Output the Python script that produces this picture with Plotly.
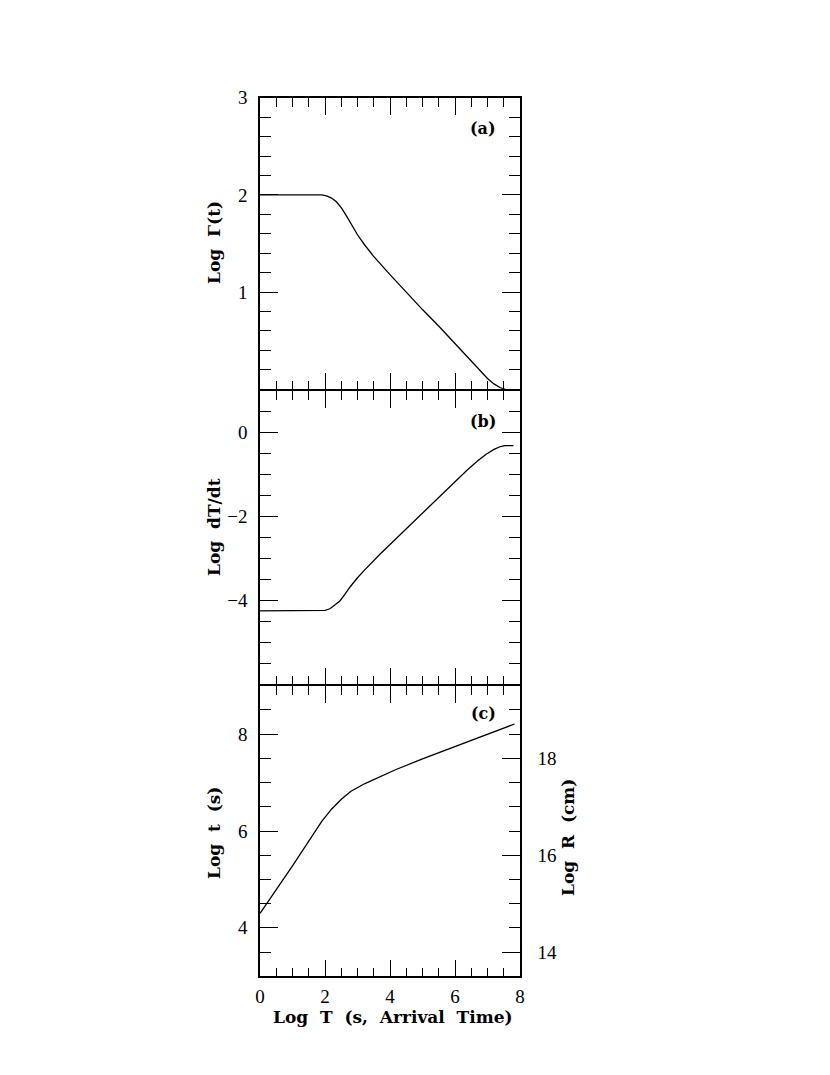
import plotly.graph_objects as go

# ---- data ----
# Panel (a): Log Gamma(t) vs Log T
logT_a = [0.0, 1.90, 2.05, 2.20, 2.35, 2.50, 2.65, 2.80, 3.00, 3.20, 3.49, 4.00, 4.51, 5.00, 5.54, 6.00, 6.36, 6.60, 6.80, 7.00, 7.20, 7.38, 7.54]
logGamma = [2.0, 2.0, 1.99, 1.968, 1.93, 1.87, 1.79, 1.70, 1.59, 1.495, 1.37, 1.18, 0.995, 0.82, 0.635, 0.47, 0.337, 0.25, 0.178, 0.11, 0.055, 0.018, 0.0]

# Panel (b): Log dT/dt vs Log T
logT_b = [0.0, 1.85, 2.00, 2.15, 2.30, 2.45, 2.60, 2.77, 3.00, 3.20, 3.69, 4.20, 4.72, 5.20, 5.54, 6.00, 6.36, 6.70, 6.97, 7.20, 7.40, 7.54, 7.80]
logdTdt = [-4.25, -4.25, -4.24, -4.2, -4.12, -4.02, -3.87, -3.68, -3.46, -3.29, -2.90, -2.52, -2.13, -1.76, -1.50, -1.16, -0.90, -0.67, -0.51, -0.40, -0.33, -0.31, -0.31]

# Panel (c): Log t vs Log T
logT_c = [0.0, 1.00, 1.90, 2.20, 2.51, 2.80, 3.23, 4.15, 5.00, 6.00, 7.00, 7.83]
logt = [4.30, 5.28, 6.20, 6.45, 6.66, 6.82, 6.98, 7.26, 7.49, 7.74, 8.00, 8.21]

# tick labels
x_ticks = [0, 2, 4, 6, 8]
ya_ticks = [1, 2, 3]
yb_ticks = [0, -2, -4]
yc_ticks = [4, 6, 8]
yr_ticks = [14, 16, 18]
logR_offset = 10.5

panel_labels = ["(a)", "(b)", "(c)"]

TICKFONT = "Liberation Serif"
TITLEFONT = "DejaVu Serif"
W, H = 830, 1075
OFF = 8  # default page body margin
X0, X1 = 260, 520
LW = 1.5


def fx(px):
    return (px - OFF) / W


def fy(py):
    return 1 - (py - OFF) / H


fig = go.Figure()
line = dict(color="black", width=1.3)
fig.add_trace(go.Scatter(x=logT_a, y=logGamma, mode="lines", line=line, xaxis="x", yaxis="y", showlegend=False))
fig.add_trace(go.Scatter(x=logT_b, y=logdTdt, mode="lines", line=line, xaxis="x2", yaxis="y2", showlegend=False))
fig.add_trace(go.Scatter(x=logT_c, y=logt, mode="lines", line=line, xaxis="x3", yaxis="y3", showlegend=False))
fig.add_trace(go.Scatter(x=[], y=[], mode="lines", xaxis="x3", yaxis="y4", showlegend=False))

tickfont = dict(family=TICKFONT, size=19, color="black")


def xax(anchor, labels):
    return dict(
        domain=[fx(X0), fx(X1)], range=[0, 8], anchor=anchor, automargin=False,
        showline=True, linecolor="black", linewidth=LW, mirror="ticks",
        ticks="inside", ticklen=17, tickwidth=1.2, tickcolor="black",
        tickmode="array", tickvals=x_ticks, ticktext=[str(v) for v in x_ticks],
        showticklabels=labels, tickfont=tickfont, ticklabelstandoff=2,
        minor=dict(dtick=0.5, tick0=0, ticks="inside", ticklen=9, tickwidth=1.2, tickcolor="black", showgrid=False),
        showgrid=False, zeroline=False, fixedrange=True,
    )


def yax(anchor, top, bot, rng, vals, mdt, mirror="ticks", side="left", standoff=7):
    # top/bot: pixel rows of the frame lines; axis lines are drawn just outside the domain
    return dict(
        domain=[fy(bot - LW / 2), fy(top + LW / 2)], range=rng, anchor=anchor, side=side, automargin=False,
        showline=True, linecolor="black", linewidth=LW, mirror=mirror,
        ticks="inside", ticklen=18, tickwidth=1.2, tickcolor="black",
        tickmode="array", tickvals=vals, ticktext=[str(v).replace("-", "\u2212") for v in vals],
        tickfont=tickfont, ticklabelstandoff=standoff,
        minor=dict(dtick=mdt, tick0=0, ticks="inside", ticklen=11, tickwidth=1.2, tickcolor="black", showgrid=False),
        showgrid=False, zeroline=False, fixedrange=True,
    )


# frame rows (pixels) of each panel
A = (97, 390)
B = (390, 685)
C = (685, 977)

fig.update_layout(
    width=W, height=H,
    margin=dict(l=0, r=0, t=0, b=0, autoexpand=False),
    paper_bgcolor="white", plot_bgcolor="white",
    xaxis=xax("y", False),
    xaxis2=xax("y2", False),
    xaxis3=xax("y3", True),
    yaxis=yax("x", *A, [0, 3], ya_ticks, 0.2),
    yaxis2=yax("x2", *B, [-6, 1], yb_ticks, 0.5),
    yaxis3=yax("x3", *C, [3, 9], yc_ticks, 0.5, mirror=False),
)
y4 = yax("x3", *C, [3 + logR_offset, 9 + logR_offset], yr_ticks, 0.5,
         mirror=False, side="right", standoff=12)
y4["overlaying"] = "y3"
y4["minor"]["tick0"] = 0.5
fig.update_layout(yaxis4=y4)

titlefont = dict(family=TITLEFONT, size=17, color="black", weight="bold")
ann = [
    dict(text="Log  \u0393(t)", x=fx(214), y=fy(243), textangle=-90),
    dict(text="Log  dT/dt", x=fx(214), y=fy(527), textangle=-90),
    dict(text="Log  t  (s)", x=fx(214), y=fy(833), textangle=-90),
    dict(text="Log  R  (cm)", x=fx(568), y=fy(838), textangle=-90),
    dict(text="Log  T  (s,  Arrival  Time)", x=fx(393), y=fy(1017), textangle=0),
]
for a in ann:
    fig.add_annotation(xref="paper", yref="paper", showarrow=False, font=titlefont,
                       xanchor="center", yanchor="middle", **a)

for lab, py in zip(panel_labels, [128, 421, 713]):
    fig.add_annotation(text=lab, xref="paper", yref="paper", x=fx(483), y=fy(py), showarrow=False,
                       font=dict(family=TITLEFONT, size=16, color="black", weight="bold"),
                       xanchor="center", yanchor="middle")

fig.write_html("out.html")
